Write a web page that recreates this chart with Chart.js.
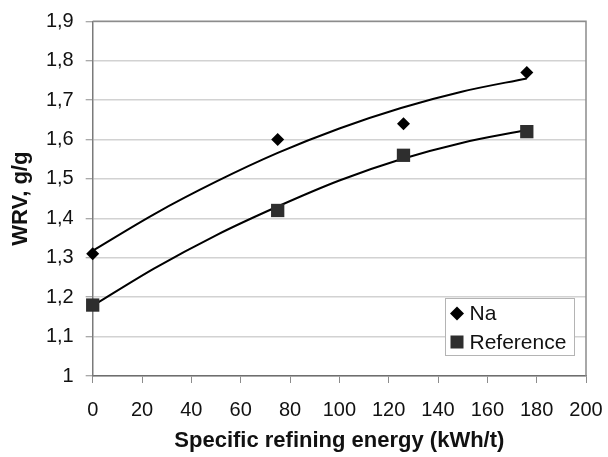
<!DOCTYPE html>
<html>
<head>
<meta charset="utf-8">
<script src="https://cdn.jsdelivr.net/npm/chart.js@4"></script>
<style>
  html, body { margin: 0; padding: 0; background: #fff; }
  #wrap { width: 608px; height: 457px; position: relative; }
</style>
</head>
<body>
<div id="wrap"><canvas id="wrv-chart"></canvas></div>
<script>
// mesures WRV
const energy = [0, 75, 126, 176];
const naValues = [1.31, 1.60, 1.64, 1.77];
const refValues = [1.18, 1.42, 1.56, 1.62];

// courbes de tendance (polynomiale)
const trendEnergy = [0, 25, 50, 75, 100, 125, 150, 176];
const naTrend = [1.318, 1.411, 1.493, 1.566, 1.628, 1.680, 1.722, 1.755];
const refTrend = [1.178, 1.273, 1.357, 1.430, 1.496, 1.550, 1.592, 1.624];

const xTicks = [0, 20, 40, 60, 80, 100, 120, 140, 160, 180, 200];
const yTicks = [1, 1.1, 1.2, 1.3, 1.4, 1.5, 1.6, 1.7, 1.8, 1.9];

const seriesNames = ['Na', 'Reference'];

function toPoints(xs, ys) {
    return xs.map((x, i) => ({ x: x, y: ys[i] }));
}

const fontFamily = "'Liberation Sans', Arial, sans-serif";

// legende dans la zone du graphe + cadre
const boxPlugin = {
    id: 'boxPlugin',
    afterDraw(chart) {
        const ctx = chart.ctx;
        const a = chart.chartArea;
        ctx.save();
        ctx.strokeStyle = '#8c8c8c';
        ctx.lineWidth = 1.5;
        ctx.beginPath();
        ctx.moveTo(a.left, a.top);
        ctx.lineTo(a.right, a.top);
        ctx.lineTo(a.right, a.bottom);
        ctx.stroke();

        const w = 129, h = 57;
        const bx = a.right - 12 - w;
        const by = a.bottom - 21 - h;
        ctx.fillStyle = '#fff';
        ctx.fillRect(bx, by, w, h);
        ctx.strokeStyle = '#b4b4b4';
        ctx.lineWidth = 1;
        ctx.strokeRect(bx + 0.5, by + 0.5, w, h);

        ctx.font = '21px ' + fontFamily;
        ctx.textBaseline = 'middle';
        const mx = bx + 12;
        const y1 = by + 15.5;
        const y2 = by + 44;
        // losange
        ctx.beginPath();
        ctx.moveTo(mx, y1 - 7);
        ctx.lineTo(mx + 7, y1);
        ctx.lineTo(mx, y1 + 7);
        ctx.lineTo(mx - 7, y1);
        ctx.closePath();
        ctx.fillStyle = '#000';
        ctx.fill();
        // carre
        ctx.fillStyle = '#2e2e2e';
        ctx.fillRect(mx - 6.5, y2 - 6.5, 13, 13);
        ctx.fillStyle = '#111';
        ctx.fillText(seriesNames[0], bx + 24.5, y1 + 1);
        ctx.fillText(seriesNames[1], bx + 24.5, y2 + 1);
        ctx.restore();
    }
};

document.addEventListener('DOMContentLoaded', function() {
    const ctx = document.getElementById('wrv-chart').getContext('2d');
    new Chart(ctx, {
        type: 'scatter',
        data: {
            datasets: [
                {
                    label: seriesNames[0],
                    data: toPoints(energy, naValues),
                    pointStyle: 'rectRot',
                    pointRadius: 6.5,
                    backgroundColor: '#000',
                    borderColor: '#000',
                    borderWidth: 0,
                    clip: false
                },
                {
                    label: seriesNames[1],
                    data: toPoints(energy, refValues),
                    pointStyle: 'rect',
                    pointRadius: 9.4,
                    backgroundColor: '#2e2e2e',
                    borderColor: '#2e2e2e',
                    borderWidth: 0,
                    clip: false
                },
                {
                    label: 'trend Na',
                    data: toPoints(trendEnergy, naTrend),
                    showLine: true,
                    pointRadius: 0,
                    borderColor: '#000',
                    borderWidth: 2,
                    cubicInterpolationMode: 'monotone'
                },
                {
                    label: 'trend Reference',
                    data: toPoints(trendEnergy, refTrend),
                    showLine: true,
                    pointRadius: 0,
                    borderColor: '#000',
                    borderWidth: 2,
                    cubicInterpolationMode: 'monotone'
                }
            ]
        },
        options: {
            responsive: true,
            maintainAspectRatio: false,
            animation: false,
            layout: {
                padding: { left: 0, top: 21.3, right: 22, bottom: 0 }
            },
            scales: {
                x: {
                    type: 'linear',
                    min: 0,
                    max: 200,
                    afterBuildTicks(scale) {
                        scale.ticks = xTicks.map(v => ({ value: v }));
                    },
                    afterFit(scale) {
                        scale.height = 81;
                        scale.paddingLeft = 0;
                        scale.paddingRight = 0;
                    },
                    grid: {
                        drawOnChartArea: false,
                        drawTicks: true,
                        tickLength: 7,
                        tickColor: '#8c8c8c',
                        tickWidth: 1
                    },
                    border: {
                        color: '#6e6e6e',
                        width: 1.5
                    },
                    ticks: {
                        color: '#111',
                        padding: 15,
                        maxRotation: 0,
                        font: { family: fontFamily, size: 20 }
                    },
                    title: {
                        display: true,
                        text: 'Specific refining energy (kWh/t)',
                        color: '#111',
                        padding: { top: 0, bottom: 3 },
                        font: { family: fontFamily, size: 22, weight: 'bold' }
                    }
                },
                y: {
                    type: 'linear',
                    min: 1,
                    max: 1.9,
                    afterBuildTicks(scale) {
                        scale.ticks = yTicks.map(v => ({ value: v }));
                    },
                    afterFit(scale) {
                        scale.width = 92.7;
                        scale.paddingTop = 0;
                        scale.paddingBottom = 0;
                    },
                    grid: {
                        color: '#d2d2d2',
                        lineWidth: 1.5,
                        drawTicks: true,
                        tickLength: 7,
                        tickColor: '#8c8c8c',
                        tickWidth: 1
                    },
                    border: {
                        color: '#7a7a7a',
                        width: 1.5
                    },
                    ticks: {
                        color: '#111',
                        padding: 12,
                        font: { family: fontFamily, size: 20 },
                        callback: function(value) {
                            return String(Math.round(value * 10) / 10).replace('.', ',');
                        }
                    },
                    title: {
                        display: true,
                        text: 'WRV, g/g',
                        color: '#111',
                        padding: { top: 8, bottom: 0 },
                        font: { family: fontFamily, size: 22, weight: 'bold' }
                    }
                }
            },
            plugins: {
                legend: { display: false },
                tooltip: { enabled: false }
            }
        },
        plugins: [boxPlugin]
    });
});
</script>
</body>
</html>
